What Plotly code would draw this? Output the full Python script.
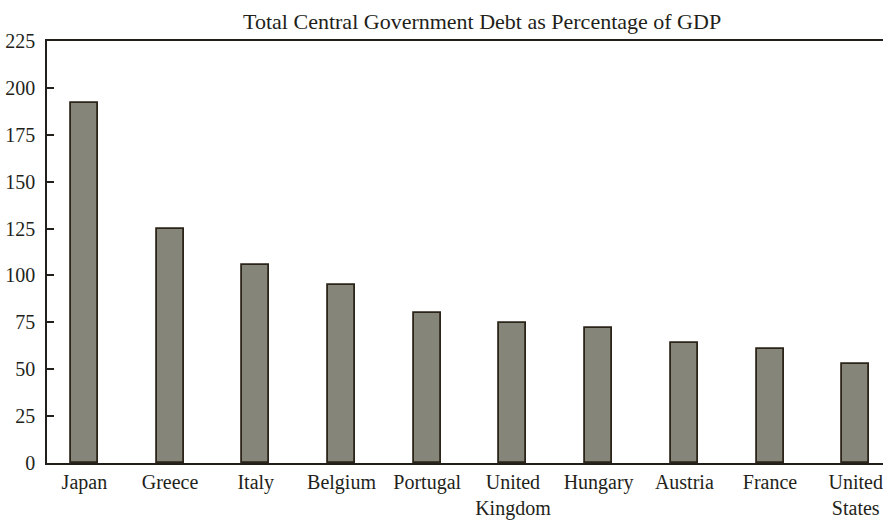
import plotly.graph_objects as go

# Central government debt, % of GDP
countries = ["Japan", "Greece", "Italy", "Belgium", "Portugal", "United<br>Kingdom",
             "Hungary", "Austria", "France", "United<br>States"]
debt_pct = [192, 125, 105.5, 95, 80, 74.7, 72, 64, 60.6, 52.7]
y_ticks = [0, 25, 50, 75, 100, 125, 150, 175, 200, 225]

INK = "#231f1a"
FONT = "Liberation Serif"

fig = go.Figure(
    go.Bar(
        x=countries,
        y=debt_pct,
        width=0.315,
        marker=dict(color="#86857a", line=dict(color="#2b2418", width=1.8)),
    )
)

fig.update_layout(
    width=883,
    height=520,
    paper_bgcolor="white",
    plot_bgcolor="white",
    margin=dict(l=47, r=0, t=41, b=53),
    font=dict(family=FONT, size=20, color=INK),
    title=dict(
        text="Total Central Government Debt as Percentage of GDP",
        x=0.546, xanchor="center", y=0.96, yanchor="middle",
        font=dict(family=FONT, size=22, color=INK),
    ),
    showlegend=False,
    bargap=0,
)

fig.update_xaxes(
    type="category",
    range=[-0.436, 9.318],
    showline=True, linecolor=INK, linewidth=1.5, mirror=True,
    ticks="", showgrid=False,
    tickfont=dict(family=FONT, size=20, color=INK),
)
fig.update_yaxes(
    range=[0, 225],
    tickvals=y_ticks,
    showline=True, linecolor=INK, linewidth=1.5,
    ticks="inside", ticklen=7, tickcolor=INK, tickwidth=1.5,
    ticklabelstandoff=6,
    showgrid=False, zeroline=False,
    tickfont=dict(family=FONT, size=20, color=INK),
)

# drop the browser's default body margin so the figure fills the window
fig.write_html(
    "out.html",
    config={"displayModeBar": False},
    post_script="document.body.style.margin='0px';document.body.style.overflow='hidden';",
)
